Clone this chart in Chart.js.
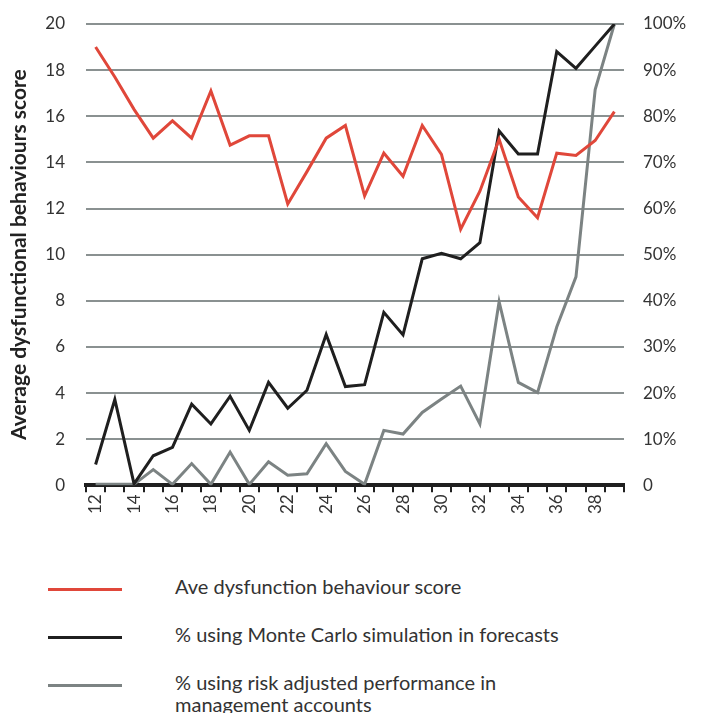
<!DOCTYPE html>
<html>
<head>
<meta charset="utf-8">
<script src="https://cdn.jsdelivr.net/npm/chart.js@4/dist/chart.umd.min.js"></script>
<style>
  body { margin: 0; background: #fff; font-family: Lato, "Open Sans", sans-serif; }
  #wrap { position: relative; width: 705px; height: 713px; }
  #chart-box { position: absolute; left: 0; top: 0; width: 705px; height: 524px; }
  .leg { position: absolute; left: 0; width: 705px; color: #333; font-size: 20px; }
  .leg .swatch { position: absolute; left: 48px; width: 74px; height: 3px; }
  .leg .txt { position: absolute; left: 175px; line-height: 22px; }
</style>
</head>
<body>
<div id="wrap">
  <div id="chart-box"><canvas id="chart"></canvas></div>
  <div id="legend"></div>
</div>
<script>
const categories = [12,13,14,15,16,17,18,19,20,21,22,23,24,25,26,27,28,29,30,31,32,33,34,35,36,37,38,39];
const dysfunctionScore = [19.0,17.7,16.3,15.05,15.8,15.05,17.1,14.75,15.15,15.15,12.2,13.6,15.05,15.6,12.55,14.4,13.4,15.6,14.35,11.1,12.75,15.0,12.5,11.6,14.4,14.3,14.95,16.2];
const monteCarloPct = [4.5,18.6,0.3,6.4,8.2,17.6,13.3,19.3,11.9,22.3,16.7,20.6,32.7,21.4,21.8,37.5,32.6,49.1,50.3,49.1,52.6,76.8,71.8,71.8,94.0,90.4,95.2,100];
const riskAdjustedPct = [0.2,0.2,0.2,3.4,0.2,4.7,0.2,7.2,0.2,5.1,2.2,2.5,9.0,3.0,0.2,11.9,11.1,15.8,18.7,21.5,13.3,39.8,22.3,20.1,34.3,45.2,85.8,100];
const leftTicks = [0,2,4,6,8,10,12,14,16,18,20];
const rightTicks = [0,10,20,30,40,50,60,70,80,90,100];

const seriesNames = [
  'Ave dysfunction behaviour score',
  '% using Monte Carlo simulation in forecasts',
  '% using risk adjusted performance in management accounts'
];
const seriesColors = ['#e0473a', '#1f1f1f', '#7c8383'];

const tickFont = { family: 'Lato', size: 17 };

new Chart(document.getElementById('chart'), {
  type: 'line',
  data: {
    labels: categories,
    datasets: [
      { label: seriesNames[0], data: dysfunctionScore, yAxisID: 'y', borderColor: seriesColors[0], borderWidth: 3, pointRadius: 0, tension: 0 },
      { label: seriesNames[1], data: monteCarloPct, yAxisID: 'y1', borderColor: seriesColors[1], borderWidth: 3, pointRadius: 0, tension: 0 },
      { label: seriesNames[2], data: riskAdjustedPct, yAxisID: 'y1', borderColor: seriesColors[2], borderWidth: 3, pointRadius: 0, tension: 0 }
    ]
  },
  options: {
    responsive: true,
    maintainAspectRatio: false,
    animation: false,
    layout: { padding: { top: 24, right: 18, left: 4, bottom: 8 } },
    plugins: { legend: { display: false }, tooltip: { enabled: false } },
    scales: {
      x: {
        offset: true,
        grid: { display: true, drawOnChartArea: false, color: '#1f1f1f', lineWidth: 2, tickLength: 7, offset: true },
        border: { display: true, color: '#1f1f1f', width: 4 },
        ticks: {
          color: '#333', font: tickFont, autoSkip: false, maxRotation: 90, minRotation: 90, padding: 2,
          callback: (v, i) => (categories[i] % 2 === 0 ? String(categories[i]) : '')
        }
      },
      y: {
        position: 'left',
        min: 0, max: 20,
        afterBuildTicks: (axis) => { axis.ticks = leftTicks.map(v => ({ value: v })); },
        afterFit: (axis) => { axis.width = 82; axis.paddingTop = 0; axis.paddingBottom = 0; },
        grid: { color: '#8a9191', lineWidth: 2, drawTicks: false },
        border: { display: false },
        ticks: { color: '#333', font: tickFont, padding: 21 },
        title: { display: true, text: 'Average dysfunctional behaviours score', color: '#222', font: { family: 'Lato', size: 21, weight: 'bold' }, padding: { top: 3, bottom: 4 } }
      },
      y1: {
        position: 'right',
        min: 0, max: 100,
        afterBuildTicks: (axis) => { axis.ticks = rightTicks.map(v => ({ value: v })); },
        afterFit: (axis) => { axis.width = 63; axis.paddingTop = 0; axis.paddingBottom = 0; },
        grid: { drawOnChartArea: false, drawTicks: false },
        border: { display: false },
        ticks: { color: '#333', font: tickFont, padding: 19, callback: v => (v === 0 ? '0' : v + '%') }
      }
    }
  }
});

// legend below the chart
const legendTops = [589, 637, 685];
const legend = document.getElementById('legend');
seriesNames.forEach((name, i) => {
  const row = document.createElement('div');
  row.className = 'leg';
  row.style.top = legendTops[i] + 'px';
  const textHtml = i === 2 ? '% using risk adjusted performance in<br>management accounts' : name;
  row.innerHTML = `<div class="swatch" style="top:-1px;background:${seriesColors[i]}"></div>` +
    `<div class="txt" style="top:-14px">${textHtml}</div>`;
  legend.appendChild(row);
});
</script>
</body>
</html>
